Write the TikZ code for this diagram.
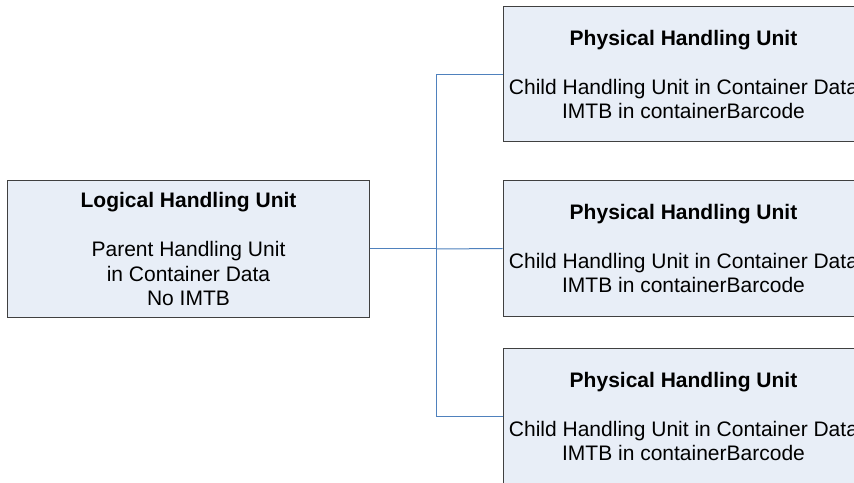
\documentclass[tikz,border=0pt]{standalone}
\usepackage{fontspec}
\setmainfont{Liberation Sans}
\definecolor{boxfill}{RGB}{232,238,247}
\definecolor{boxline}{RGB}{64,64,64}
\definecolor{conn}{RGB}{79,129,189}
\begin{document}
\begin{tikzpicture}[x=1bp,y=-1bp,
  unitbox/.style={draw=boxline,fill=boxfill,line width=1bp,minimum width=361bp,inner sep=0pt,
    align=center,font=\fontsize{21bp}{24.5bp}\selectfont},
  link/.style={draw=conn,line width=1bp}]
\useasboundingbox (0,0) rectangle (854,483);
\node[unitbox,minimum height=136bp] (L) at (188.5,249) {\textbf{Logical Handling Unit}\\[24.5bp]Parent Handling Unit\\in Container Data\\No IMTB};
\node[unitbox,minimum height=135bp] (P1) at (683.5,74.5) {\textbf{Physical Handling Unit}\\[24.5bp]Child Handling Unit in Container Data\\IMTB in containerBarcode};
\node[unitbox,minimum height=135bp] (P2) at (683.5,248.5) {\textbf{Physical Handling Unit}\\[24.5bp]Child Handling Unit in Container Data\\IMTB in containerBarcode};
\node[unitbox,minimum height=135bp] (P3) at (683.5,416.5) {\textbf{Physical Handling Unit}\\[24.5bp]Child Handling Unit in Container Data\\IMTB in containerBarcode};
\coordinate (J) at (436,249);
\draw[link] (L.east) -- (J);
\draw[link] (J) |- (P1.west);
\draw[link] (J) -- (P2.west);
\draw[link] (J) |- (P3.west);
\end{tikzpicture}
\end{document}
